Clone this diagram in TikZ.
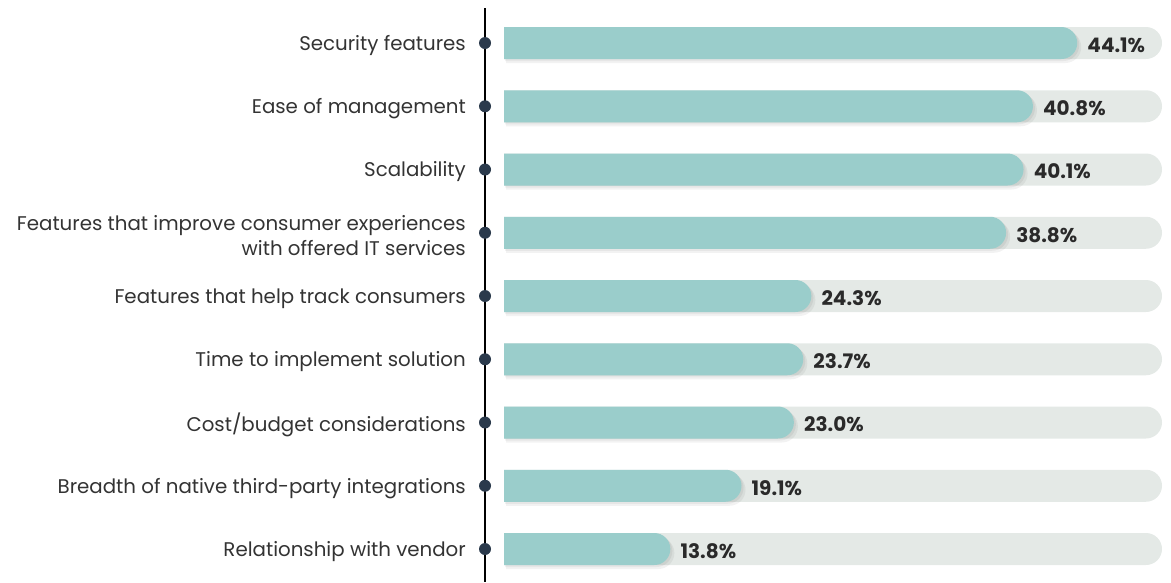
\documentclass[tikz,border=0pt]{standalone}
\usepackage{fontspec}
\setmainfont{Poppins}
\definecolor{barteal}{HTML}{9ACDCB}
\definecolor{bargray}{HTML}{E4E9E6}
\definecolor{dotnavy}{HTML}{2B3A4C}
\definecolor{labtext}{HTML}{333333}
\definecolor{valtext}{HTML}{2A2A2A}

\tikzset{
  itemlabel/.style={anchor=east,align=right,text=labtext,font=\fontsize{19.8}{25}\selectfont,inner sep=0pt},
  valuelabel/.style={anchor=west,text=valtext,font=\fontsize{20}{22}\selectfont\bfseries,inner sep=0pt},
  axisdot/.style={circle,fill=dotnavy,minimum size=12pt,inner sep=0pt}
}

\begin{document}
\begin{tikzpicture}[x=1pt,y=-1pt]
  \useasboundingbox (0,0) rectangle (1171,582);
  \coordinate (axtop) at (485,8);
  \coordinate (axbot) at (485,582);
  \draw[line width=1.4pt] (axtop) -- (axbot);
  \foreach \i/\v/\t in {1/44.1/Security features,2/40.8/Ease of management,3/40.1/Scalability,4/38.8/{Features that improve consumer experiences\\with offered IT services},5/24.3/Features that help track consumers,6/23.7/Time to implement solution,7/23.0/{Cost/budget considerations},8/19.1/Breadth of native third-party integrations,9/13.8/Relationship with vendor}{
    \pgfmathsetmacro\yy{43+(\i-1)*63.25}
    \pgfmathsetmacro\xe{485+13.43*\v}
    \fill[bargray] (504,\yy-16) -- (1146,\yy-16) arc[start angle=-90,end angle=90,radius=16] -- (504,\yy+16) -- cycle;
    \fill[black,opacity=.05] (506,\yy-12) -- (\xe-12,\yy-12) arc[start angle=-90,end angle=90,radius=16] -- (506,\yy+20) -- cycle;
    \fill[black,opacity=.05] (505,\yy-14) -- (\xe-14,\yy-14) arc[start angle=-90,end angle=90,radius=16] -- (505,\yy+18) -- cycle;
    \fill[barteal] (504,\yy-16) -- (\xe-16,\yy-16) arc[start angle=-90,end angle=90,radius=16] -- (504,\yy+16) -- cycle;
    \node[axisdot] (dot\i) at (485,\yy) {};
    \node[itemlabel] (lab\i) at (466,\yy+2.5) {\t};
    \node[valuelabel] (val\i) at (\xe+10,\yy+2) {\v\%};
  }
\end{tikzpicture}
\end{document}
